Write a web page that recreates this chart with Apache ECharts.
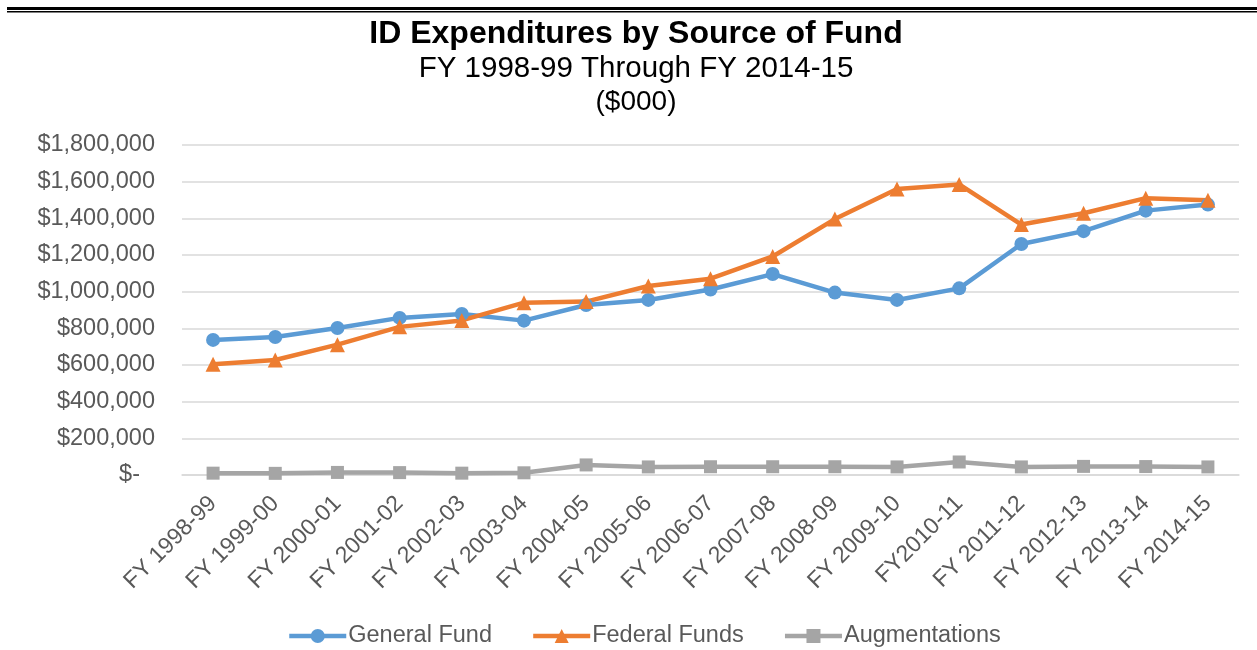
<!DOCTYPE html>
<html>
<head>
<meta charset="utf-8">
<script src="https://cdn.jsdelivr.net/npm/echarts@6/dist/echarts.min.js"></script>
<style>
html,body{margin:0;padding:0;background:#fff;}
#chart{width:1257px;height:650px;}
</style>
</head>
<body>
<div id="chart"></div>
<script>
const categories = ['FY 1998-99','FY 1999-00','FY 2000-01','FY 2001-02','FY 2002-03','FY 2003-04','FY 2004-05','FY 2005-06','FY 2006-07','FY 2007-08','FY 2008-09','FY 2009-10','FY2010-11','FY 2011-12','FY 2012-13','FY 2013-14','FY 2014-15'];
const generalFund = [737000, 753000, 802000, 857000, 878000, 842000, 927000, 955000, 1012000, 1096000, 995000, 955000, 1018000, 1260000, 1330000, 1442000, 1475000];
const federalFunds = [604000, 627000, 711000, 808000, 843000, 940000, 946000, 1031000, 1071000, 1192000, 1396000, 1560000, 1585000, 1366000, 1428000, 1510000, 1498000];
const augmentations = [10000, 9000, 14000, 13000, 10000, 12000, 55000, 44000, 45000, 45000, 45000, 44000, 71000, 44000, 47000, 46000, 44000];
const yTicks = [0, 200000, 400000, 600000, 800000, 1000000, 1200000, 1400000, 1600000, 1800000];

const chart = echarts.init(document.getElementById('chart'));
const font = 'Liberation Sans, Arial, sans-serif';
const grey = '#595959';
function yFmt(v){
  if (v === 0) return '{z|$-}';
  return '$' + v.toLocaleString('en-US');
}
chart.setOption({
  animation: false,
  backgroundColor: '#fff',
  title: [
    {text: 'ID Expenditures by Source of Fund', left: 636, textAlign: 'center', top: 18, padding: 0,
     textStyle: {fontFamily: font, fontSize: 32, fontWeight: 'bold', color: '#000'}},
    {text: 'FY 1998-99 Through FY 2014-15', left: 636, textAlign: 'center', top: 54, padding: 0,
     textStyle: {fontFamily: font, fontSize: 29.5, fontWeight: 'normal', color: '#000'}},
    {text: '($000)', left: 636, textAlign: 'center', top: 88, padding: 0,
     textStyle: {fontFamily: font, fontSize: 28, fontWeight: 'normal', color: '#000'}}
  ],
  graphic: [
    {type: 'rect', shape: {x: 7, y: 7, width: 1250, height: 3}, style: {fill: '#000'}},
    {type: 'rect', shape: {x: 7, y: 11, width: 1250, height: 1.5}, style: {fill: '#000'}}
  ],
  grid: {left: 182, right: 18, top: 145, bottom: 175, containLabel: false},
  legend: {
    top: 624, left: 287, padding: 0,
    itemWidth: 57, itemHeight: 17.5, itemGap: 39,
    lineStyle: {width: 4.5},
    textStyle: {fontFamily: font, fontSize: 23.5, color: grey, padding: [0,0,0,-3]},
    data: ['General Fund', 'Federal Funds', 'Augmentations']
  },
  xAxis: {
    type: 'category', data: categories, boundaryGap: true,
    axisLine: {show: true, lineStyle: {color: '#D9D9D9', width: 1.5}},
    axisTick: {show: false},
    axisLabel: {interval: 0, rotate: 45, margin: 25, fontFamily: font, fontSize: 23, color: grey}
  },
  yAxis: {
    type: 'value', min: 0, max: 1800000, interval: 200000,
    axisLine: {show: false}, axisTick: {show: false},
    splitLine: {lineStyle: {color: '#D9D9D9', width: 1.5}},
    axisLabel: {margin: 27, fontFamily: font, fontSize: 23.5, color: grey, formatter: yFmt,
      rich: {z: {fontFamily: font, fontSize: 23.5, color: grey, padding: [0, 15, 0, 0]}}}
  },
  series: [
    {name: 'General Fund', type: 'line', data: generalFund, symbol: 'circle', symbolSize: 14,
     lineStyle: {width: 4.5, color: '#5B9BD5'}, itemStyle: {color: '#5B9BD5'}},
    {name: 'Federal Funds', type: 'line', data: federalFunds, symbol: 'triangle', symbolSize: 15,
     lineStyle: {width: 4.5, color: '#ED7D31'}, itemStyle: {color: '#ED7D31'}},
    {name: 'Augmentations', type: 'line', data: augmentations, symbol: 'rect', symbolSize: 13,
     lineStyle: {width: 4.5, color: '#A5A5A5'}, itemStyle: {color: '#A5A5A5'}}
  ]
});
</script>
</body>
</html>
